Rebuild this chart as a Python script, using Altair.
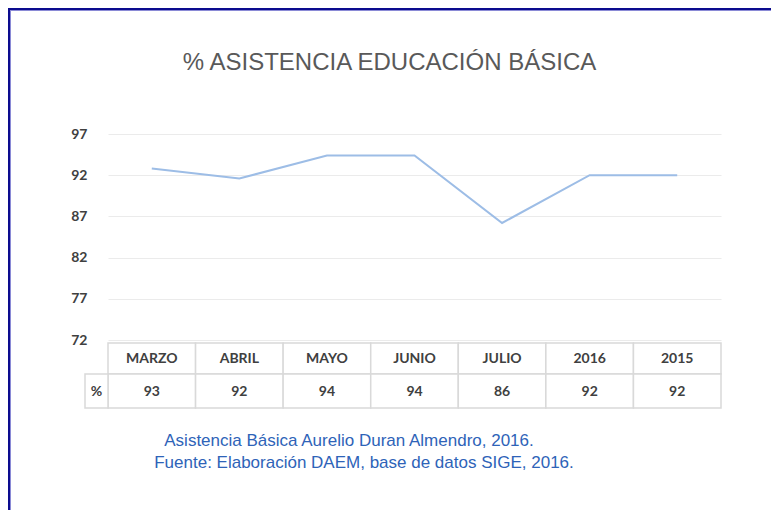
import altair as alt
import pandas as pd

meses = ["MARZO", "ABRIL", "MAYO", "JUNIO", "JULIO", "2016", "2015"]
valores = [92.8, 91.6, 94.4, 94.4, 86.2, 92.0, 92.0]
y_ticks = [72, 77, 82, 87, 92, 97]
titulo = "% ASISTENCIA EDUCACIÓN BÁSICA"
nota1 = "Asistencia Básica Aurelio Duran Almendro, 2016."
nota2 = "Fuente: Elaboración DAEM, base de datos SIGE, 2016."

df = pd.DataFrame({"mes": meses, "valor": valores})
one = alt.Data(values=[{"k": 1}])

xenc = alt.X("mes:N", sort=meses, axis=None,
             scale=alt.Scale(type="band", paddingInner=0, paddingOuter=0))
xc = alt.X("mes:N", sort=meses, axis=None, bandPosition=0.5,
           scale=alt.Scale(type="band", paddingInner=0, paddingOuter=0))

base = alt.Chart(df)

line = base.mark_line(color="#9DBDE6", strokeWidth=2).encode(
    x=xc,
    y=alt.Y("valor:Q", scale=alt.Scale(domain=[72, 97], nice=False, zero=False),
            axis=alt.Axis(values=y_ticks, title=None, domain=False, ticks=False,
                          grid=True, gridColor="#EBEBEB", gridWidth=1,
                          labelFont="Lato", labelFontWeight="bold", labelFontSize=14,
                          labelColor="#404040", labelPadding=21)),
)

TBL = "#D9D9D9"
hdr_rect = base.mark_rect(fill="white", stroke=TBL, strokeWidth=1.5).encode(
    x=xenc, y=alt.value(209), y2=alt.value(240))
val_rect = base.mark_rect(fill="white", stroke=TBL, strokeWidth=1.5).encode(
    x=xenc, y=alt.value(240), y2=alt.value(274))
pct_rect = alt.Chart(one).mark_rect(fill="white", stroke=TBL, strokeWidth=1.5).encode(
    x=alt.value(-23), x2=alt.value(0), y=alt.value(240), y2=alt.value(274))

tstyle = dict(font="Lato", fontWeight="bold", fontSize=14, color="#404040",
              baseline="middle", align="center")
hdr_txt = base.mark_text(**tstyle).encode(x=xc, y=alt.value(225), text="mes:N")
val_txt = base.mark_text(**tstyle).encode(
    x=xc, y=alt.value(257.5), text=alt.Text("valor:Q", format=".0f"))
pct_txt = alt.Chart(one).mark_text(**tstyle).encode(
    x=alt.value(-11.5), y=alt.value(257.5), text=alt.value("%"))

title = alt.Chart(one).mark_text(font="Liberation Sans", fontSize=24, color="#595959",
                                 align="center", baseline="middle").encode(
    x=alt.value(281.5), y=alt.value(-71), text=alt.value(titulo))

cstyle = dict(font="Liberation Sans", fontSize=17, color="#2E63B8",
              align="center", baseline="middle")
cap1 = alt.Chart(one).mark_text(**cstyle).encode(
    x=alt.value(241), y=alt.value(307), text=alt.value(nota1))
cap2 = alt.Chart(one).mark_text(**cstyle).encode(
    x=alt.value(256), y=alt.value(329), text=alt.value(nota2))

frame_l1 = alt.Chart(one).mark_rule(color="#0C0C8E", strokeWidth=2).encode(
    x=alt.value(-99), y=alt.value(-126), y2=alt.value(400))
frame_l2 = alt.Chart(one).mark_rule(color="#8A8AD6", strokeWidth=1).encode(
    x=alt.value(-97.5), y=alt.value(-124), y2=alt.value(400))
frame_t1 = alt.Chart(one).mark_rule(color="#0C0C8E", strokeWidth=2).encode(
    y=alt.value(-125), x=alt.value(-100), x2=alt.value(680))
frame_t2 = alt.Chart(one).mark_rule(color="#8A8AD6", strokeWidth=1).encode(
    y=alt.value(-123.5), x=alt.value(-98), x2=alt.value(680))

chart = alt.layer(
    hdr_rect, val_rect, pct_rect, line, hdr_txt, val_txt, pct_txt,
    title, cap1, cap2, frame_l1, frame_l2, frame_t1, frame_t2
).properties(
    width=613, height=206,
    autosize=alt.AutoSizeParams(type="none"),
    padding={"left": 100, "top": 126, "right": 50, "bottom": 170},
    background="white",
).configure_view(stroke=None)

chart.save("out.html", embed_options={"renderer": "svg", "actions": False})
